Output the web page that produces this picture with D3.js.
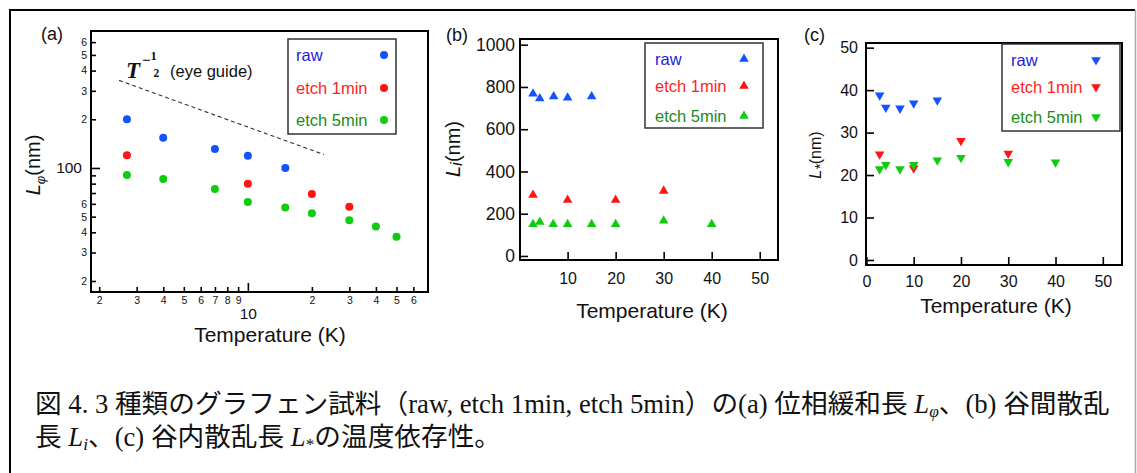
<!DOCTYPE html>
<html>
<head>
<meta charset="utf-8">
<script src="https://cdn.jsdelivr.net/npm/d3@7"></script>
<style>
  body { margin: 0; background: #fff; }
  text { font-family: "Liberation Sans", Arial, sans-serif; fill: #111; }
  .caption, .caption tspan { font-family: "Liberation Serif", "Noto Sans CJK JP", serif; fill: #111; }
</style>
</head>
<body>
<svg id="fig" width="1137" height="473"></svg>
<script>
// ---- data ----
const seriesNames = ["raw", "etch 1min", "etch 5min"];
const markColors = ["#1452ff", "#ff1414", "#10cc10"];
const textColors = ["#2020e0", "#ff1e1e", "#1a8c1a"];

// (a) L_phi vs T, log-log
const tempRawA = [2.7, 4, 7, 10, 15];
const lphiRaw = [200, 154, 131, 119, 100];
const tempEtch1A = [2.7, 10, 20, 30];
const lphiEtch1 = [120, 80, 69, 57.5];
const tempEtch5A = [2.7, 4, 7, 10, 15, 20, 30, 40, 50];
const lphiEtch5 = [90.5, 85.5, 74, 61.5, 57, 52.5, 47.5, 43.5, 37.5];
const guideT = [2.48, 22.8];
const guideL = [348, 121];

// (b) Li vs T
const tempRawB = [2.8, 4.2, 7.1, 10, 15];
const liRaw = [768, 745, 755, 749, 755];
const tempEtch1B = [2.8, 10, 20, 30];
const liEtch1 = [289, 265, 265, 308];
const tempEtch5B = [2.8, 4.2, 7, 10, 15, 20, 30, 40];
const liEtch5 = [150, 161, 150, 150, 150, 150, 167, 150];

// (c) L* vs T
const tempRawC = [2.8, 4.1, 7.1, 10, 15];
const lstarRaw = [38.8, 35.9, 35.7, 36.9, 37.6];
const tempEtch1C = [2.8, 10, 20, 30];
const lstarEtch1 = [24.9, 21.6, 28.1, 25.1];
const tempEtch5C = [2.8, 4.1, 7.1, 10, 15, 20, 30, 40];
const lstarEtch5 = [21.4, 22.4, 21.4, 22.4, 23.5, 24.1, 23.1, 23.0];

// tick values / labels
const xMinorTicksA = [2, 3, 4, 5, 6, 7, 8, 9, 20, 30, 40, 50, 60];
const xMinorLabelsA = ["2", "3", "4", "5", "6", "7", "8", "9", "2", "3", "4", "5", "6"];
const xMajorTicksA = [10];
const xMajorLabelsA = ["10"];
const yMinorTicksA = [20, 30, 40, 50, 60, 70, 80, 90, 200, 300, 400, 500, 600];
const yMinorLabelsA = ["2", "3", "4", "5", "6", "", "", "", "2", "3", "4", "5", "6"];
const yMajorTicksA = [100];
const yMajorLabelsA = ["100"];
const xTicksB = [10, 20, 30, 40, 50];
const yTicksB = [0, 200, 400, 600, 800, 1000];
const xTicksC = [0, 10, 20, 30, 40, 50];
const yTicksC = [0, 10, 20, 30, 40, 50];

const svg = d3.select("#fig");

// outer frame of the figure
svg.append("path")
  .attr("d", "M10,480 V10 H1135")
  .attr("fill", "none")
  .attr("stroke", "#000")
  .attr("stroke-width", 2);
svg.append("line")
  .attr("x1", 1135.5).attr("x2", 1135.5).attr("y1", 10).attr("y2", 473)
  .attr("stroke", "#aaa").attr("stroke-width", 1.5);

function labelFrom(values, labels) {
  return d => labels[values.indexOf(d)];
}

function styleAxis(g, fontSize) {
  g.select(".domain").remove();
  g.selectAll(".tick line").attr("stroke", "#000").attr("stroke-width", 1.6);
  g.selectAll(".tick text")
    .attr("fill", "#111")
    .style("font-size", fontSize + "px")
    .style("font-family", "'Liberation Sans', Arial, sans-serif");
}

function frame(x0, y0, x1, y1) {
  svg.append("rect")
    .attr("x", x0).attr("y", y0)
    .attr("width", x1 - x0).attr("height", y1 - y0)
    .attr("fill", "none").attr("stroke", "#000").attr("stroke-width", 2);
}

function legend(x0, y0, x1, y1, rows, textX, markX, drawMark) {
  svg.append("rect")
    .attr("x", x0).attr("y", y0)
    .attr("width", x1 - x0).attr("height", y1 - y0)
    .attr("fill", "#fff").attr("stroke", "#333").attr("stroke-width", 1.5);
  seriesNames.forEach((name, i) => {
    svg.append("text")
      .attr("x", textX).attr("y", rows[i] + 6)
      .style("font-size", "16.5px")
      .style("fill", textColors[i])
      .text(name);
    drawMark(markX, rows[i], markColors[i]);
  });
}

function yTitle(x, y, size, main, sub, subSize, subDy) {
  const t = svg.append("text")
    .attr("transform", `translate(${x},${y}) rotate(-90)`)
    .attr("text-anchor", "middle")
    .style("font-size", size + "px");
  t.append("tspan").style("font-style", "italic").text(main);
  t.append("tspan").style("font-style", "italic").style("font-size", subSize + "px")
    .attr("dy", subDy).text(sub);
  t.append("tspan").attr("dy", -subDy).text("(nm)");
}

// ================= (a) =================
const xA = d3.scaleLog().domain([1.83, 70.3]).range([91, 428]);
const yA = d3.scaleLog().domain([17.1, 703]).range([292, 31]);

svg.append("g").attr("transform", "translate(0,292)")
  .call(d3.axisBottom(xA).tickValues(xMinorTicksA).tickSize(-5).tickPadding(4.5)
    .tickFormat(labelFrom(xMinorTicksA, xMinorLabelsA)))
  .call(g => styleAxis(g, 10.5));
svg.append("g").attr("transform", "translate(0,292)")
  .call(d3.axisBottom(xA).tickValues(xMajorTicksA).tickSize(-9).tickPadding(15.5)
    .tickFormat(labelFrom(xMajorTicksA, xMajorLabelsA)))
  .call(g => styleAxis(g, 15.5));
svg.append("g").attr("transform", "translate(91,0)")
  .call(d3.axisLeft(yA).tickValues(yMinorTicksA).tickSize(-5).tickPadding(4)
    .tickFormat(labelFrom(yMinorTicksA, yMinorLabelsA)))
  .call(g => styleAxis(g, 10.5));
svg.append("g").attr("transform", "translate(91,0)")
  .call(d3.axisLeft(yA).tickValues(yMajorTicksA).tickSize(-9).tickPadding(9)
    .tickFormat(labelFrom(yMajorTicksA, yMajorLabelsA)))
  .call(g => styleAxis(g, 15.5));
frame(91, 31, 428, 292);

// eye guide
svg.append("path")
  .attr("d", d3.line().x(d => xA(d[0])).y(d => yA(d[1]))(d3.zip(guideT, guideL)))
  .attr("stroke", "#333").attr("stroke-width", 1.1)
  .attr("stroke-dasharray", "4,3").attr("fill", "none");

const serif = "'Liberation Serif', serif";
const guideLabel = svg.append("g");
guideLabel.append("text").attr("x", 126).attr("y", 77.5)
  .style("font-family", serif)
  .style("font-style", "italic").style("font-weight", "bold")
  .style("font-size", "23px").text("T");
guideLabel.append("text").attr("x", 142).attr("y", 65)
  .style("font-family", serif).style("font-weight", "bold")
  .style("font-size", "15px").text("−");
guideLabel.append("text").attr("x", 150.5).attr("y", 59.5)
  .style("font-family", serif).style("font-weight", "bold")
  .style("font-size", "12.5px").text("1");
guideLabel.append("text").attr("x", 153.5).attr("y", 76.5)
  .style("font-family", serif).style("font-weight", "bold")
  .style("font-size", "11.5px").text("2");
guideLabel.append("text").attr("x", 170).attr("y", 77)
  .style("font-size", "16.5px").text("(eye guide)");

[[tempRawA, lphiRaw], [tempEtch1A, lphiEtch1], [tempEtch5A, lphiEtch5]].forEach((s, i) => {
  svg.append("g").selectAll("circle")
    .data(d3.zip(s[0], s[1]))
    .enter().append("circle")
      .attr("cx", d => xA(d[0]))
      .attr("cy", d => yA(d[1]))
      .attr("r", 4)
      .attr("fill", markColors[i]);
});

legend(288, 39, 396, 134, [55, 88, 120], 296, 384, (x, y, c) => {
  svg.append("circle").attr("cx", x).attr("cy", y).attr("r", 4).attr("fill", c);
});

svg.append("text").attr("x", 41).attr("y", 40).style("font-size", "18px").text("(a)");
svg.append("text").attr("x", 270).attr("y", 342).attr("text-anchor", "middle")
  .style("font-size", "21px").text("Temperature (K)");
yTitle(40, 165, 20, "L", "φ", 13, 5);

// ================= (b) =================
const xB = d3.scaleLinear().domain([0.09, 53.8]).range([520, 778]);
const yB = d3.scaleLinear().domain([-19, 1027]).range([260, 39]);

svg.append("g").attr("transform", "translate(0,260)")
  .call(d3.axisBottom(xB).tickValues(xTicksB).tickSize(-8).tickPadding(12.5)
    .tickFormat(d3.format("d")))
  .call(g => styleAxis(g, 16));
svg.append("g").attr("transform", "translate(520,0)")
  .call(d3.axisLeft(yB).tickValues(yTicksB).tickSize(-8).tickPadding(5)
    .tickFormat(d3.format("d")))
  .call(g => styleAxis(g, 17.5));
frame(520, 39, 778, 260);

const triUp = d3.symbol().type(d3.symbolTriangle).size(40);
[[tempRawB, liRaw], [tempEtch1B, liEtch1], [tempEtch5B, liEtch5]].forEach((s, i) => {
  svg.append("g").selectAll("path")
    .data(d3.zip(s[0], s[1]))
    .enter().append("path")
      .attr("d", triUp)
      .attr("transform", d => `translate(${xB(d[0])},${yB(d[1])})`)
      .attr("fill", markColors[i]);
});

legend(645, 43, 763, 128, [59, 86, 116], 655, 744, (x, y, c) => {
  svg.append("path").attr("d", triUp).attr("transform", `translate(${x},${y})`).attr("fill", c);
});

svg.append("text").attr("x", 446).attr("y", 41).style("font-size", "18px").text("(b)");
svg.append("text").attr("x", 652).attr("y", 318).attr("text-anchor", "middle")
  .style("font-size", "21px").text("Temperature (K)");
yTitle(460, 149, 20, "L", "i", 17, 2);

// ================= (c) =================
const xC = d3.scaleLinear().domain([-0.086, 54.06]).range([866, 1122]);
const yC = d3.scaleLinear().domain([-1.18, 51.1]).range([265, 43]);

svg.append("g").attr("transform", "translate(0,265)")
  .call(d3.axisBottom(xC).tickValues(xTicksC).tickSize(-8).tickPadding(11)
    .tickFormat(d3.format("d")))
  .call(g => styleAxis(g, 16));
svg.append("g").attr("transform", "translate(866,0)")
  .call(d3.axisLeft(yC).tickValues(yTicksC).tickSize(-8).tickPadding(8)
    .tickFormat(d3.format("d")))
  .call(g => styleAxis(g, 16));
frame(866, 43, 1122, 265);

const triDown = d3.symbol().type(d3.symbolTriangle).size(40);
[[tempRawC, lstarRaw], [tempEtch1C, lstarEtch1], [tempEtch5C, lstarEtch5]].forEach((s, i) => {
  svg.append("g").selectAll("path")
    .data(d3.zip(s[0], s[1]))
    .enter().append("path")
      .attr("d", triDown)
      .attr("transform", d => `translate(${xC(d[0])},${yC(d[1])}) rotate(180)`)
      .attr("fill", markColors[i]);
});

legend(1002, 44, 1120, 131, [60, 87, 117], 1011, 1096, (x, y, c) => {
  svg.append("path").attr("d", triDown).attr("transform", `translate(${x},${y}) rotate(180)`).attr("fill", c);
});

svg.append("text").attr("x", 804).attr("y", 41).style("font-size", "18px").text("(c)");
svg.append("text").attr("x", 996).attr("y", 313).attr("text-anchor", "middle")
  .style("font-size", "21px").text("Temperature (K)");
yTitle(821, 155, 16, "L", "*", 14, 4);

// ================= caption =================
function captionLine(y, parts) {
  const t = svg.append("text").attr("class", "caption").attr("x", 35).attr("y", y)
    .style("font-size", "23px");
  parts.forEach(p => {
    const s = t.append("tspan").text(p.t);
    if (p.it) s.style("font-style", "italic");
    if (p.sub) s.style("font-size", "15px").attr("dy", 4);
    if (p.up) s.attr("dy", -4);
  });
  return t;
}
const line1 = captionLine(413, [
  { t: "図 4. 3 種類のグラフェン試料（raw, etch 1min, etch 5min）の(a) 位相緩和長 " },
  { t: "L", it: true }, { t: "φ", it: true, sub: true },
  { t: "、(b) 谷間散乱", up: true }
]);
const line2 = captionLine(446, [
  { t: "長 " },
  { t: "L", it: true }, { t: "i", it: true, sub: true },
  { t: "、(c) 谷内散乱長 ", up: true },
  { t: "L", it: true }, { t: "*", sub: true },
  { t: "の温度依存性。", up: true }
]);
// fit line 1 to the width it takes in the figure
const w1 = line1.node().getComputedTextLength();
const k = 1075 / w1;
const fs = 23 * k;
[line1, line2].forEach(t => {
  t.style("font-size", fs + "px");
  t.selectAll("tspan").each(function () {
    const s = d3.select(this);
    if (s.style("font-size") === "15px") s.style("font-size", (15 * k) + "px");
  });
});
</script>
</body>
</html>
